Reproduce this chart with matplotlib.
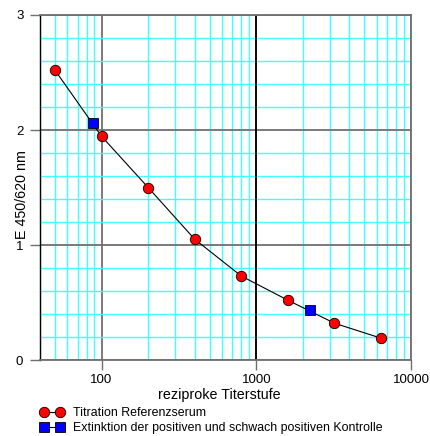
import matplotlib.pyplot as plt
from matplotlib.lines import Line2D
from matplotlib.ticker import FixedLocator, NullFormatter

plt.rcParams['font.family'] = ['Liberation Sans', 'DejaVu Sans']

# Titration Referenzserum
titer = [50, 100, 200, 400, 800, 1600, 3200, 6400]
extinktion = [2.52, 1.945, 1.50, 1.05, 0.73, 0.52, 0.32, 0.19]
# positive / schwach positive Kontrolle
kontr_titer = [88, 2230]
kontr_ext = [2.06, 0.435]

x_ticks = [100, 1000, 10000]
x_ticklabels = ['100', '1000', '10000']
y_ticks = [0, 1, 2, 3]

cyan = '#40FFFF'
gray = '#707070'

fig = plt.figure(figsize=(4.31, 4.36), dpi=100)
ax = fig.add_axes([0.0928, 0.1743, 0.8608, 0.7913])

ax.set_xscale('log')
ax.set_xlim(40, 10000)
ax.set_ylim(0, 3)

# minor grid
minor_x = [m * 10 ** e for e in (1, 2, 3) for m in range(2, 10) if 40 <= m * 10 ** e <= 10000]
ax.xaxis.set_minor_locator(FixedLocator(minor_x))
ax.xaxis.set_minor_formatter(NullFormatter())
ax.yaxis.set_minor_locator(FixedLocator([v / 10 for v in range(2, 30, 2) if v % 10]))
ax.grid(which='minor', color=cyan, linewidth=1.0)
ax.tick_params(which='minor', length=0)

ax.set_xticks(x_ticks)
ax.set_xticklabels(x_ticklabels)
ax.set_yticks(y_ticks)
ax.grid(which='major', color=gray, linewidth=1.3)
ax.axvline(1000, color='black', linewidth=1.3, zorder=1)
ax.tick_params(which='major', length=7, width=1.0, color=gray, labelsize=9.5, pad=3)
ax.tick_params(axis='y', pad=5)
ax.set_axisbelow(True)

for side in ('top', 'right', 'bottom'):
    ax.spines[side].set_color(gray)
    ax.spines[side].set_linewidth(1.3)
ax.spines['left'].set_color('black')
ax.spines['left'].set_linewidth(1.0)

ax.plot(titer, extinktion, color='black', linewidth=0.8,
        marker='o', markersize=7.5, markerfacecolor='red',
        markeredgecolor='black', markeredgewidth=0.6, zorder=3)
ax.plot(kontr_titer, kontr_ext, linestyle='none',
        marker='s', markersize=6.5, markerfacecolor='blue',
        markeredgecolor='black', markeredgewidth=0.6, zorder=4)

ax.set_xlabel('reziproke Titerstufe', fontsize=10.3)
ax.xaxis.set_label_coords(0.482, -0.082)
ax.set_ylabel('E 450/620 nm', fontsize=10.3)
ax.yaxis.set_label_coords(-0.03, 0.48)

handles = [
    Line2D([], [], color='black', linewidth=0.8, marker='o', markersize=7.5,
           markerfacecolor='red', markeredgecolor='black', markeredgewidth=0.6),
    Line2D([], [], color='black', linewidth=0.8, marker='s', markersize=6.5,
           markerfacecolor='blue', markeredgecolor='black', markeredgewidth=0.6),
]
labels = ['Titration Referenzserum', 'Extinktion der positiven und schwach positiven Kontrolle']
fig.legend(handles, labels, loc='upper left', bbox_to_anchor=(0.093, 0.066),
           frameon=False, numpoints=2, fontsize=8.9, handlelength=1.95,
           handletextpad=0.7, labelspacing=0.25, borderaxespad=0, borderpad=0)

fig.savefig('out.png', dpi=100)
